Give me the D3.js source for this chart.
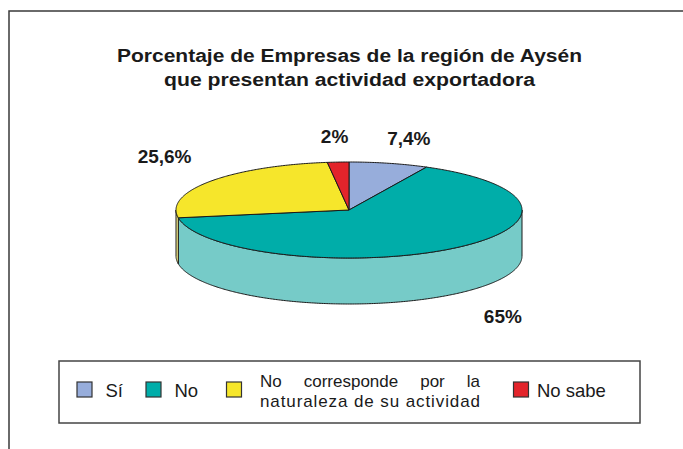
<!DOCTYPE html>
<html><head><meta charset="utf-8">
<script src="https://cdn.jsdelivr.net/npm/d3@7"></script>
<style>
html,body{margin:0;padding:0;background:#fff;}
svg{display:block;font-family:"Liberation Sans",Arial,Helvetica,sans-serif;}
</style></head>
<body>
<svg id="c" width="683" height="449"></svg>
<script>
const titleLines = ["Porcentaje de Empresas de la región de Aysén", "que presentan actividad exportadora"];
const categories = ["Sí", "No", "No corresponde por la naturaleza de su actividad", "No sabe"];
const legendLines = [["Sí"], ["No"], ["No corresponde por la", "naturaleza de su actividad"], ["No sabe"]];
const values = [7.4, 65, 25.6, 2];
const valueLabels = ["7,4%", "65%", "25,6%", "2%"];
const topColors = ["#97ADDB", "#00ADA9", "#F6E62B", "#E3242B"];
const sideColors = ["#B9C8E8", "#76CBC8", "#F9EE8A", "#EE7A7D"];

const svg = d3.select("#c");
const W = 683, H = 449;
svg.append("rect").attr("width", W).attr("height", H).attr("fill", "#fff");

// outer frame (top and left edges)
svg.append("path").attr("d", "M9,449 L9,11 L683,11").attr("fill", "none").attr("stroke", "#3a3a3a").attr("stroke-width", 1.5);

// title
const titleW = [465, 371];
titleLines.forEach((t, i) => {
  svg.append("text").attr("x", 349.5).attr("y", 62 + i * 23.5)
    .attr("text-anchor", "middle").attr("font-weight", "bold").attr("font-size", 18)
    .attr("fill", "#1a1a1a")
    .attr("textLength", titleW[i]).attr("lengthAdjust", "spacingAndGlyphs")
    .text(t);
});

// 3D pie
const cx = 349, cy = 210, rx = 173, ry = 48, depth = 46;
const pie = d3.pie().sort(null).value(d => d)(values);
const P = (a, dy = 0) => [cx + rx * Math.sin(a), cy - ry * Math.cos(a) + dy];
const line = d3.line();
function arcPts(a0, a1, dy) {
  const n = Math.max(2, Math.ceil(Math.abs(a1 - a0) / 0.01));
  return d3.range(n + 1).map(i => P(a0 + (a1 - a0) * i / n, dy));
}
const g = svg.append("g");
// side walls (front half only)
pie.forEach((s, i) => {
  const a = Math.max(s.startAngle, Math.PI / 2), b = Math.min(s.endAngle, 3 * Math.PI / 2);
  if (b <= a) return;
  const pts = arcPts(a, b, 0).concat(arcPts(b, a, depth));
  g.append("path").attr("d", line(pts) + "Z")
    .attr("fill", sideColors[i]).attr("stroke", "#1a1a1a").attr("stroke-width", 1)
    .attr("stroke-linejoin", "round");
});
// top slices
pie.forEach((s, i) => {
  const pts = [[cx, cy]].concat(arcPts(s.startAngle, s.endAngle, 0));
  g.append("path").attr("d", line(pts) + "Z")
    .attr("fill", topColors[i]).attr("stroke", "#1a1a1a").attr("stroke-width", 1)
    .attr("stroke-linejoin", "round");
});
// value labels
pie.forEach((s, i) => {
  const m = (s.startAngle + s.endAngle) / 2;
  const front = Math.cos(m) < 0;
  const kx = Math.sin(m) < 0 && !front ? 1.33 : 1.5;
  const x = cx + rx * kx * Math.sin(m);
  const y = cy - ry * 1.55 * Math.cos(m) + (front ? depth : 0) + 7 - (Math.sin(m) < -0.5 ? 10 : 0);
  svg.append("text").attr("x", x).attr("y", y).attr("text-anchor", "middle")
    .attr("font-weight", "bold").attr("font-size", 19).attr("fill", "#1a1a1a")
    .text(valueLabels[i]);
});

// legend
svg.append("rect").attr("x", 59).attr("y", 361).attr("width", 581).attr("height", 62)
  .attr("fill", "#fff").attr("stroke", "#444").attr("stroke-width", 1.5);
const legX = d3.scaleOrdinal().domain(categories).range([77, 146, 226.5, 513.5]);
const fs = 17;
categories.forEach((c, i) => {
  const x0 = legX(c);
  svg.append("rect").attr("x", x0).attr("y", 382).attr("width", 15).attr("height", 15)
    .attr("fill", topColors[i]).attr("stroke", "#333").attr("stroke-width", 1.2);
  const lines = legendLines[i];
  if (lines.length === 1) {
    svg.append("text").attr("x", x0 + (i === 3 ? 23.5 : 28.5)).attr("y", 397)
      .attr("font-size", 18.5).attr("fill", "#1a1a1a").text(lines[0]);
  } else {
    const tx = x0 + 33.5, width = 220;
    const txt = svg.append("text").attr("font-size", fs).attr("fill", "#1a1a1a");
    lines.forEach((t, j) => {
      const ts = txt.append("tspan").attr("x", tx).attr("y", 387 + j * 19.5).text(t);
      const nat = ts.node().getComputedTextLength();
      const gaps = t.split(" ").length - 1;
      if (j === lines.length - 1) {
        ts.attr("letter-spacing", (width - nat) / (t.length - 1));
      } else {
        // justified line: widen the word gaps to fill the width
        ts.attr("word-spacing", (width - nat) / gaps);
      }
    });
  }
});
</script>
</body></html>
